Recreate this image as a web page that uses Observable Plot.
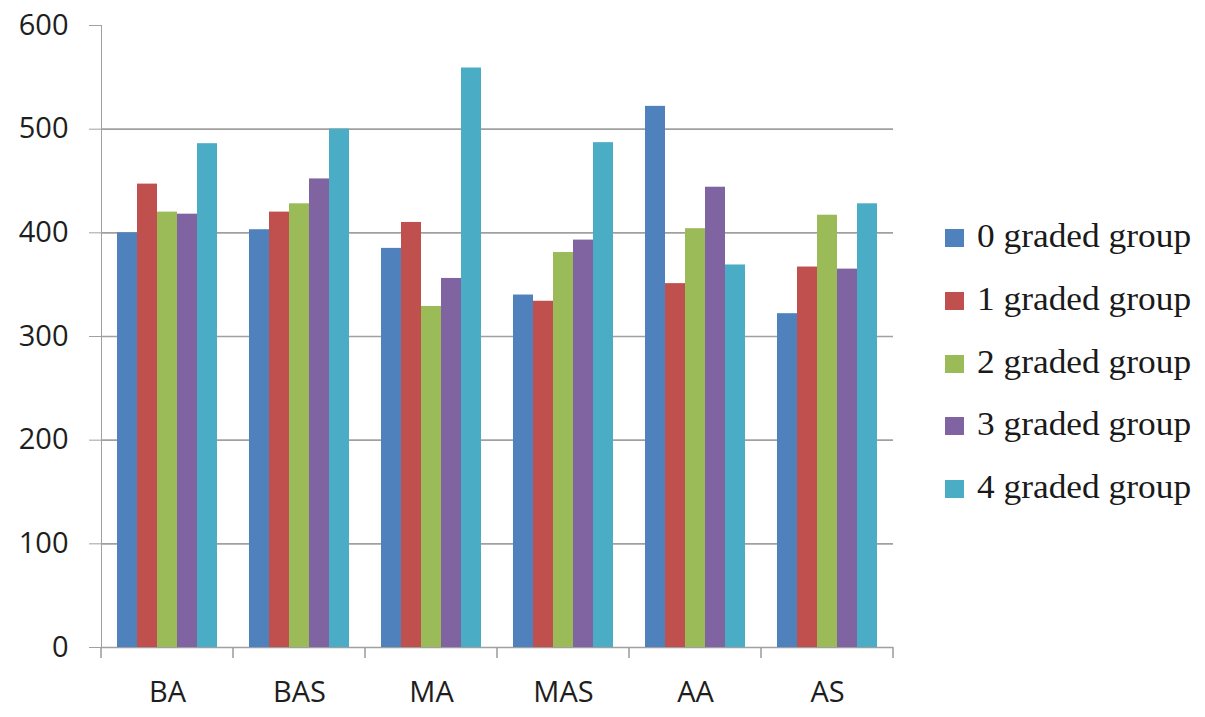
<!DOCTYPE html>
<html>
<head>
<meta charset="utf-8">
<script src="https://cdn.jsdelivr.net/npm/d3@7"></script>
<script src="https://cdn.jsdelivr.net/npm/@observablehq/plot@0.6"></script>
<style>
  html, body { margin: 0; padding: 0; background: #fff; }
  #wrap { position: relative; width: 1205px; height: 717px; overflow: hidden; }
  #chart svg text { fill: #1e1e1e; }
  #legend { position: absolute; left: 945px; top: 205px; }
  .item { display: flex; align-items: center; height: 62.7px; white-space: nowrap; }
  .sw { width: 19px; height: 18px; margin-right: 13px; flex: none; position: relative; top: 2px; }
  .lab { font-family: "Liberation Serif", "Times New Roman", serif; font-size: 34px; line-height: 1; color: #1a1a1a;
         display: inline-block; transform: scaleX(1.04); transform-origin: left center; }
</style>
</head>
<body>
<div id="wrap">
  <div id="chart"></div>
  <div id="legend"></div>
</div>
<script>
const categories = ["BA", "BAS", "MA", "MAS", "AA", "AS"];
const groups = ["0 graded group", "1 graded group", "2 graded group", "3 graded group", "4 graded group"];
const grade0 = [400, 403, 385, 340, 522, 322];
const grade1 = [447, 420, 410, 334, 351, 367];
const grade2 = [420, 428, 329, 381, 404, 417];
const grade3 = [418, 452, 356, 393, 444, 365];
const grade4 = [486, 500, 559, 487, 369, 428];
const yTicks = [0, 100, 200, 300, 400, 500, 600];
const colors = ["#4F81BD", "#C0504D", "#9BBB59", "#8064A2", "#4BACC6"];

const series = [grade0, grade1, grade2, grade3, grade4];
const data = [];
categories.forEach((c, i) => {
  groups.forEach((g, j) => {
    data.push({category: c, group: g, value: series[j][i]});
  });
});

const chart = Plot.plot({
  width: 1205,
  height: 717,
  marginLeft: 101,
  marginRight: 312,
  marginTop: 25,
  marginBottom: 70,
  style: {fontFamily: "'Open Sans', sans-serif", fontSize: "29px", color: "#a0a0a0", background: "white"},
  facet: {data: data, x: "category"},
  fx: {domain: categories, paddingInner: 0, paddingOuter: 0, label: null, axis: "bottom", tickSize: 0, tickPadding: 34},
  x: {domain: groups, paddingInner: 0, paddingOuter: 0.8, axis: null},
  y: {domain: [0, 600], ticks: yTicks, tickSize: 12, tickPadding: 21, line: true, label: null, tickFormat: d => String(d)},
  color: {domain: groups, range: colors},
  marks: [
    Plot.ruleY(yTicks.filter(t => t < 600), {stroke: "#a0a0a0", strokeWidth: 1.6}),
    Plot.barY(data, {x: "group", y: "value", fill: "group"})
  ]
});
document.getElementById("chart").appendChild(chart);

// category boundary tick marks below the baseline
try {
  const fx = chart.scale("fx");
  const y = chart.scale("y");
  const y0 = y.apply(0);
  const pos = categories.map(c => fx.apply(c));
  pos.push(fx.apply(categories[categories.length - 1]) + fx.bandwidth);
  d3.select(chart).append("g")
    .attr("stroke", "#a0a0a0")
    .attr("stroke-width", 1.6)
    .selectAll("line")
    .data(pos)
    .join("line")
    .attr("x1", d => d).attr("x2", d => d)
    .attr("y1", y0).attr("y2", y0 + 11);
} catch (e) { console.error(e); }

// legend
const legend = d3.select("#legend");
groups.forEach((g, j) => {
  const it = legend.append("div").attr("class", "item");
  it.append("div").attr("class", "sw").style("background", colors[j]);
  it.append("span").attr("class", "lab").text(g);
});
</script>
</body>
</html>
